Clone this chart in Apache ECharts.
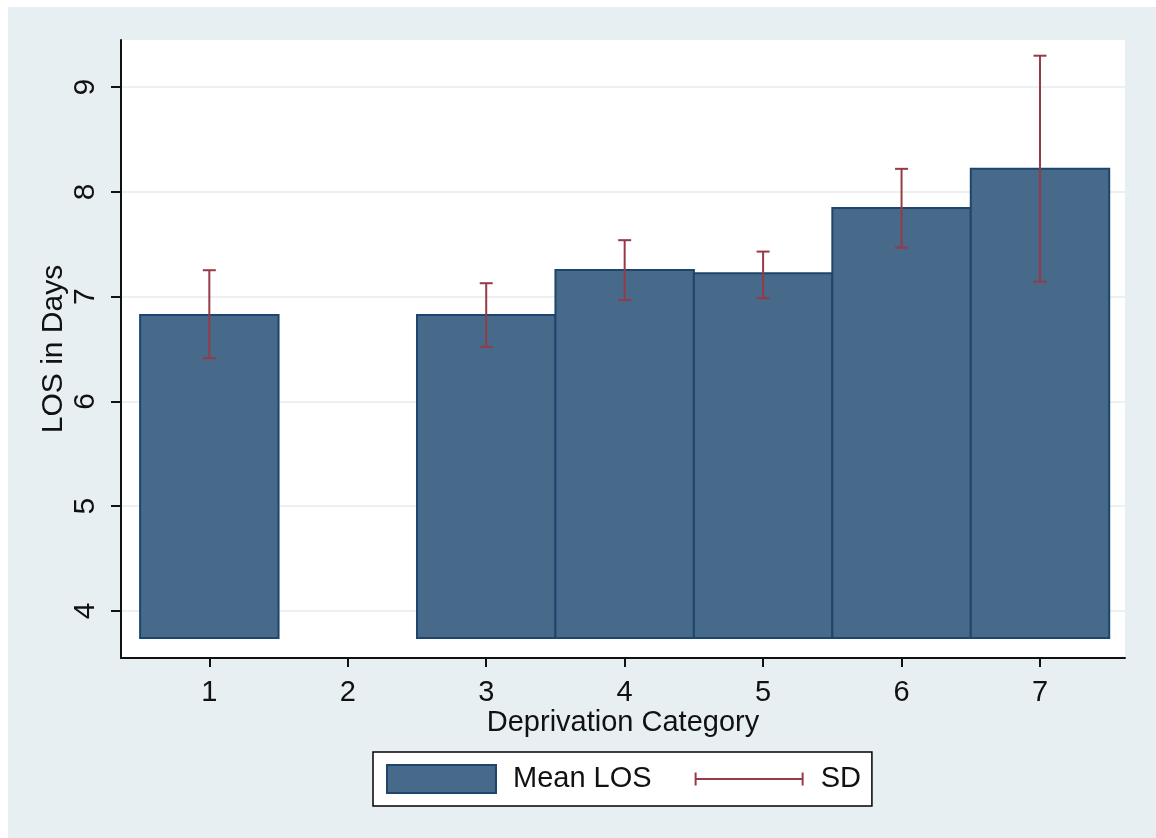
<!DOCTYPE html>
<html>
<head>
<meta charset="utf-8">
<script src="https://cdn.jsdelivr.net/npm/echarts@6/dist/echarts.min.js"></script>
<style>
  html, body { margin: 0; padding: 0; background: #ffffff; }
  #chart { position: absolute; left: 8px; top: 7px; width: 1148px; height: 831px; }
</style>
</head>
<body>
<div id="chart"></div>
<script>
// Mean length of stay by deprivation category, with SD range
const categories = [1, 2, 3, 4, 5, 6, 7];
const meanLOS = [6.825, null, 6.825, 7.255, 7.222, 7.845, 8.22];
const sdLow = [6.412, null, 6.52, 6.968, 6.985, 7.468, 7.143];
const sdHigh = [7.252, null, 7.128, 7.539, 7.43, 8.22, 9.30];
const yTicks = [4, 5, 6, 7, 8, 9];
const barBase = 3.74;

const FONT = '"Liberation Sans", Arial, Helvetica, sans-serif';
const INK = '#111111';
const BAR_FILL = '#486a8a';
const BAR_EDGE = '#1d466f';
const SD_COLOR = '#953a46';

const barData = [];
const sdData = [];
categories.forEach(function (c, i) {
  if (meanLOS[i] != null) barData.push([c, meanLOS[i]]);
  if (sdLow[i] != null) sdData.push([c, sdLow[i], sdHigh[i]]);
});

// Each bar spans one unit on the x scale, from the common base up to its mean
function renderBar(params, api) {
  const x = api.value(0);
  const v = api.value(1);
  const topLeft = api.coord([x - 0.5, v]);
  const bottomRight = api.coord([x + 0.5, barBase]);
  return {
    type: 'rect',
    shape: {
      x: topLeft[0], y: topLeft[1],
      width: bottomRight[0] - topLeft[0],
      height: bottomRight[1] - topLeft[1]
    },
    style: { fill: BAR_FILL, stroke: BAR_EDGE, lineWidth: 2 }
  };
}

// Capped vertical range from low to high
function renderSD(params, api) {
  const x = api.value(0);
  const lo = api.coord([x, api.value(1)]);
  const hi = api.coord([x, api.value(2)]);
  const cap = 6.5;
  const st = { stroke: SD_COLOR, lineWidth: 2 };
  return {
    type: 'group',
    children: [
      { type: 'line', shape: { x1: lo[0], y1: lo[1], x2: hi[0], y2: hi[1] }, style: st },
      { type: 'line', shape: { x1: hi[0] - cap, y1: hi[1], x2: hi[0] + cap, y2: hi[1] }, style: st },
      { type: 'line', shape: { x1: lo[0] - cap, y1: lo[1], x2: lo[0] + cap, y2: lo[1] }, style: st }
    ]
  };
}

const chart = echarts.init(document.getElementById('chart'), null, { renderer: 'canvas' });

chart.setOption({
  backgroundColor: '#e8eff2',
  animation: false,
  textStyle: { fontFamily: FONT, color: INK },
  grid: {
    left: 113, top: 33, right: 31, bottom: 180,
    show: true, backgroundColor: '#ffffff', borderWidth: 0
  },
  legend: {
    left: 365, top: 745,
    orient: 'horizontal',
    itemWidth: 109, itemHeight: 28, itemGap: 43,
    padding: [12, 11, 12, 13],
    backgroundColor: '#ffffff',
    borderColor: '#000000', borderWidth: 1.5, borderRadius: 0,
    selectedMode: false,
    textStyle: { fontFamily: FONT, fontSize: 29, color: INK, padding: [0, 0, 0, 12], lineHeight: 28 },
    data: [
      { name: 'Mean LOS', icon: 'rect' },
      { name: 'SD', icon: 'path://M0,0h2v13h-2z M2,5.5h106v2h-106z M108,0h2v13h-2z' }
    ]
  },
  xAxis: {
    type: 'value',
    min: 0.362, max: 7.614,
    name: 'Deprivation Category',
    nameLocation: 'middle',
    nameGap: 50,
    nameMoveOverlap: false,
    nameTextStyle: { fontFamily: FONT, fontSize: 29, color: INK },
    axisLine: { show: true, onZero: false, lineStyle: { color: INK, width: 2 } },
    axisTick: { show: true, customValues: categories, length: 9, lineStyle: { color: INK, width: 2 } },
    axisLabel: { customValues: categories, fontFamily: FONT, fontSize: 29, color: INK, margin: 20 },
    splitLine: { show: false }
  },
  yAxis: {
    type: 'value',
    min: 3.55, max: 9.45,
    name: 'LOS in Days',
    nameLocation: 'middle',
    nameRotate: 90,
    nameGap: 52,
    nameMoveOverlap: false,
    nameTextStyle: { fontFamily: FONT, fontSize: 30, color: INK },
    axisLine: { show: true, lineStyle: { color: INK, width: 2 } },
    axisTick: { show: true, customValues: yTicks, length: 10, lineStyle: { color: INK, width: 2 } },
    axisLabel: { customValues: yTicks, rotate: 90, fontFamily: FONT, fontSize: 30, color: INK, margin: 20 },
    splitLine: { show: true, lineStyle: { color: '#ebf1f3', width: 2 } }
  },
  series: [
    {
      name: 'Mean LOS',
      type: 'custom',
      renderItem: renderBar,
      itemStyle: { color: BAR_FILL, borderColor: BAR_EDGE, borderWidth: 2 },
      encode: { x: 0, y: 1 },
      data: barData,
      z: 2
    },
    {
      name: 'SD',
      type: 'custom',
      renderItem: renderSD,
      itemStyle: { color: SD_COLOR, borderWidth: 0 },
      encode: { x: 0, y: [1, 2] },
      data: sdData,
      z: 3
    }
  ]
});
</script>
</body>
</html>
